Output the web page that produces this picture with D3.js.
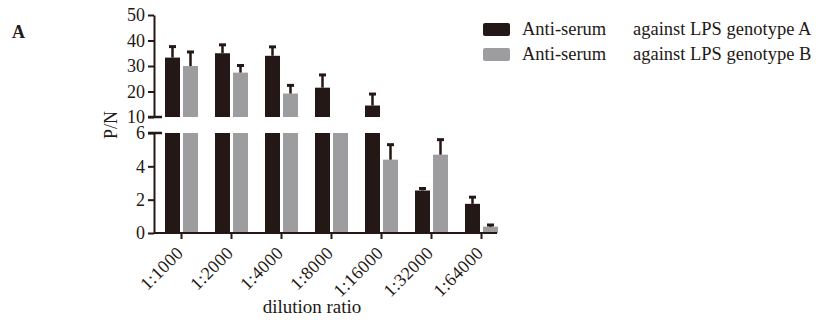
<!DOCTYPE html>
<html><head><meta charset="utf-8">
<script src="https://cdn.jsdelivr.net/npm/d3@7"></script>
<style>body{margin:0;background:#fff}svg{display:block}text{font-family:"Liberation Serif","Times New Roman",serif;fill:#231815}</style>
</head><body><svg id="c" width="820" height="321"></svg>
<script>
const categories = ["1:1000","1:2000","1:4000","1:8000","1:16000","1:32000","1:64000"];
const seriesNames = ["Anti-serum    against LPS genotype A","Anti-serum    against LPS genotype B"];
const valuesA = [33.3, 35.0, 34.0, 21.5, 14.5, 2.55, 1.75];
const errA    = [4.3, 3.3, 3.5, 5.0, 4.5, 0.12, 0.4];
const valuesB = [30.0, 27.4, 19.2, 8.0, 4.4, 4.7, 0.38];
const errB    = [5.5, 2.8, 3.2, 0, 0.9, 0.9, 0.1];
const upperTicks = [10,20,30,40,50];
const lowerTicks = [0,2,4,6];
const colors = ["#231815","#9d9d9f"];

const svg = d3.select("#c");
const ink = "#231815";
const axisX = 154;
const yU = d3.scaleLinear().domain([10,50]).range([117,15]);
const yL = d3.scaleLinear().domain([0,6]).range([233,133]);
const x = d3.scaleBand().domain(categories).range([156.5,506.5]).paddingInner(0.34).paddingOuter(0.17);
const xs = d3.scaleBand().domain([0,1]).range([0,x.bandwidth()]).paddingInner(2-33/18);

const data = [];
categories.forEach((c,i)=>{
  data.push({c, s:0, v:valuesA[i], e:errA[i]});
  data.push({c, s:1, v:valuesB[i], e:errB[i]});
});

const g = svg.append("g");
g.selectAll("rect.low").data(data).join("rect")
  .attr("x", d=>x(d.c)+xs(d.s)).attr("width", xs.bandwidth())
  .attr("y", d=>yL(Math.min(d.v,6))).attr("height", d=>yL(0)-yL(Math.min(d.v,6)))
  .attr("fill", d=>colors[d.s]);
g.selectAll("rect.up").data(data.filter(d=>d.v>10)).join("rect")
  .attr("x", d=>x(d.c)+xs(d.s)).attr("width", xs.bandwidth())
  .attr("y", d=>yU(d.v)).attr("height", d=>yU(10)-yU(d.v))
  .attr("fill", d=>colors[d.s]);
const ys = v => v>10 ? yU(v) : yL(v);
const eb = g.selectAll("g.eb").data(data.filter(d=>d.e>0)).join("g");
eb.append("line")
  .attr("x1", d=>x(d.c)+xs(d.s)+xs.bandwidth()/2).attr("x2", d=>x(d.c)+xs(d.s)+xs.bandwidth()/2)
  .attr("y1", d=>ys(d.v)).attr("y2", d=>ys(d.v+d.e))
  .attr("stroke", ink).attr("stroke-width", 2.5);
eb.append("line")
  .attr("x1", d=>x(d.c)+xs(d.s)+xs.bandwidth()/2-3.5).attr("x2", d=>x(d.c)+xs(d.s)+xs.bandwidth()/2+3.5)
  .attr("y1", d=>ys(d.v+d.e)).attr("y2", d=>ys(d.v+d.e))
  .attr("stroke", ink).attr("stroke-width", 3);

function styleAxis(sel){
  sel.selectAll("path,line").attr("stroke", ink).attr("stroke-width", 2);
  sel.selectAll("text").style("font-family","Liberation Serif, serif").style("font-size","18px").attr("fill", ink);
}
const aU = svg.append("g").attr("transform",`translate(${axisX},0)`)
  .call(d3.axisLeft(yU).tickValues(upperTicks).tickFormat(d3.format("d")).tickSize(6).tickSizeOuter(0).tickPadding(3));
styleAxis(aU);
const aL = svg.append("g").attr("transform",`translate(${axisX},0)`)
  .call(d3.axisLeft(yL).tickValues(lowerTicks).tickFormat(d3.format("d")).tickSize(6).tickSizeOuter(0).tickPadding(3));
styleAxis(aL);
[yU(10), yL(6)].forEach(yy=>{
  svg.append("line").attr("x1",axisX-6).attr("x2",axisX+8).attr("y1",yy).attr("y2",yy)
    .attr("stroke",ink).attr("stroke-width",2.5);
});
const aX = svg.append("g").attr("transform",`translate(0,${yL(0)})`)
  .call(d3.axisBottom(x).tickSize(6).tickSizeOuter(0));
aX.select(".domain").attr("d",`M${axisX},0H497`);
styleAxis(aX);
aX.selectAll(".tick text").style("font-size","18px").style("letter-spacing","0.4px")
  .attr("text-anchor","end").attr("x",0).attr("y",0).attr("dx","0").attr("dy","0")
  .attr("transform","translate(3,21) rotate(-45)");

svg.append("text").attr("x",12).attr("y",38).style("font-size","18px").style("font-weight","bold").text("A");
svg.append("text").attr("transform","translate(117,125) rotate(-90)").attr("text-anchor","middle")
  .style("font-size","18px").text("P/N");
svg.append("text").attr("x",312).attr("y",313).attr("text-anchor","middle").style("font-size","19px").text("dilution ratio");

const lg = svg.append("g");
seriesNames.forEach((n,i)=>{
  const yy = 23 + i*25;
  lg.append("rect").attr("x",483).attr("y",yy).attr("width",27).attr("height",13).attr("rx",2).attr("fill",colors[i]);
  const parts = n.split(/\s{2,}/);
  lg.append("text").attr("x",522).attr("y",yy+12).style("font-size","18.5px").text(parts[0]);
  lg.append("text").attr("x",633).attr("y",yy+12).style("font-size","18.5px").text(parts[1]);
});
</script></body></html>
